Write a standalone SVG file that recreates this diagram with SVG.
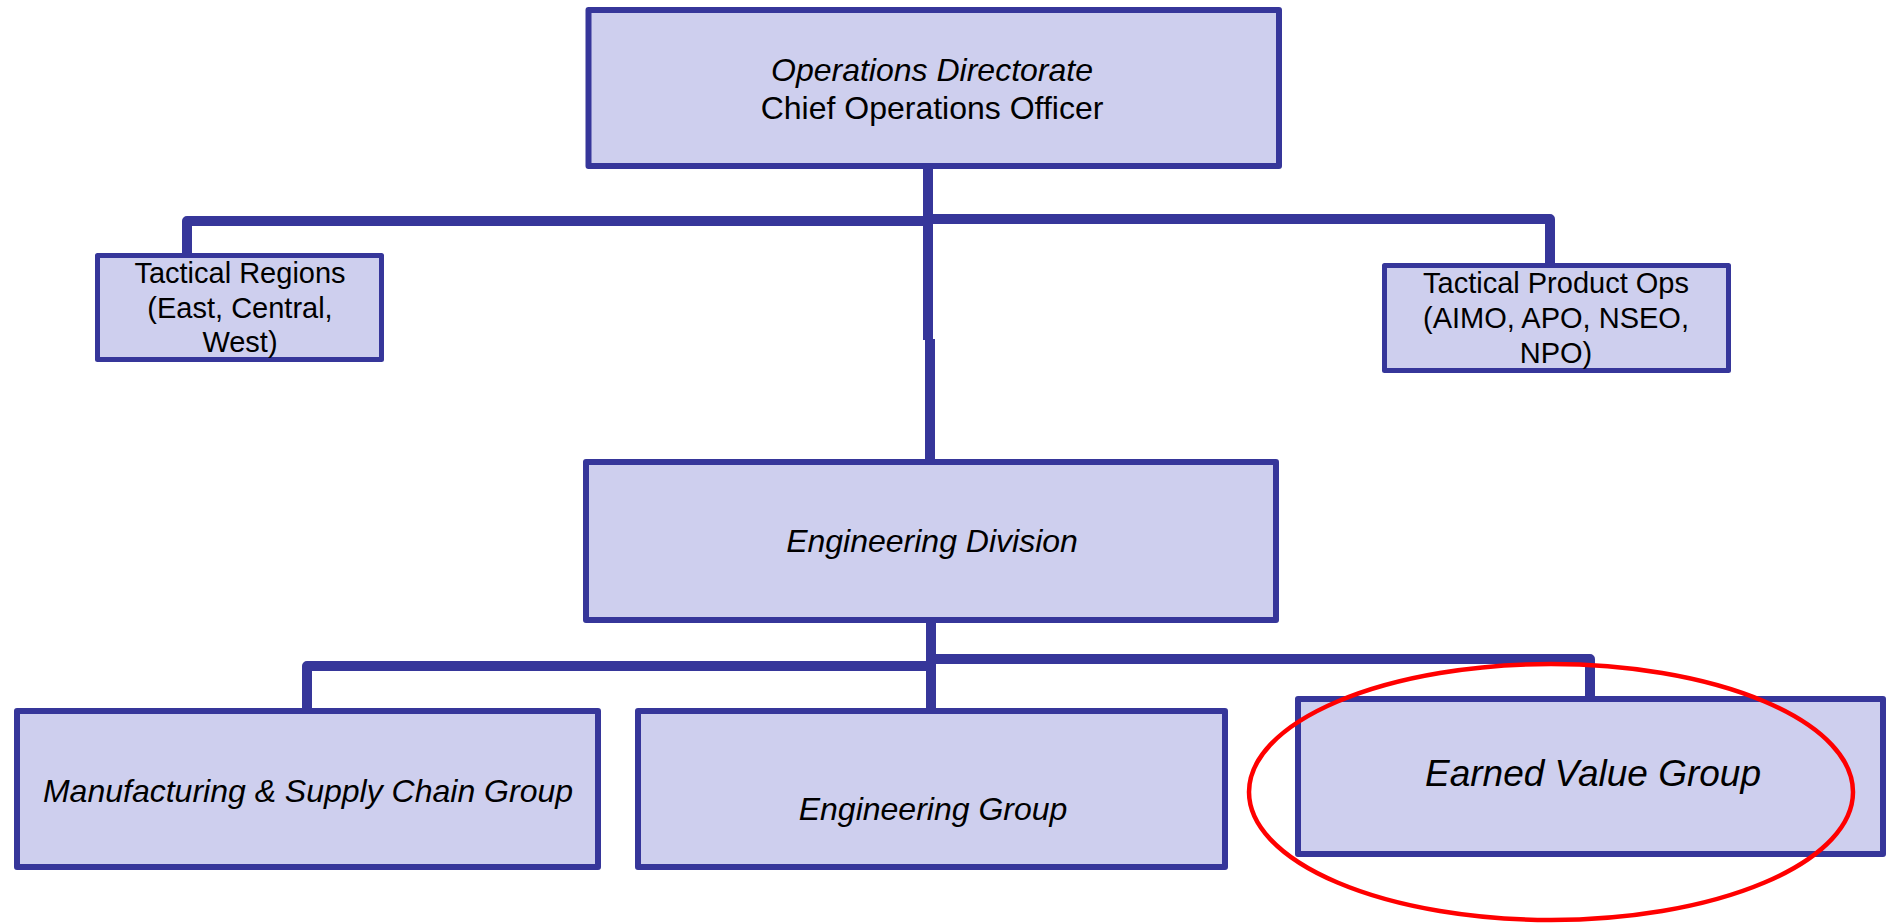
<svg xmlns="http://www.w3.org/2000/svg" width="1891" height="923" viewBox="0 0 1891 923">
  <style>
    .box { fill: #CECFEE; stroke: #36369A; stroke-width: 6; stroke-linejoin: round; }
    .small { stroke-width: 5; }
    .conn { fill: none; stroke: #36369A; stroke-width: 10; stroke-linejoin: round; stroke-linecap: butt; }
    .t { font-family: "Liberation Sans", Arial, sans-serif; fill: #000; text-anchor: middle; }
    .it { font-style: italic; }
  </style>
  <rect x="0" y="0" width="1891" height="923" fill="#FFFFFF"/>
  <g id="connectors">
    <path class="conn" d="M928 166 V340"/>
    <path class="conn" d="M930 339 V461"/>
    <path class="conn" d="M187 253 V221 H928"/>
    <path class="conn" d="M928 219 H1550 V263"/>
    <path class="conn" d="M931 621 V710"/>
    <path class="conn" d="M307 710 V666 H931"/>
    <path class="conn" d="M931 659 H1590 V697"/>
  </g>
  <g id="node-ops">
    <rect class="box" x="588.5" y="10" width="690.5" height="156"/>
    <text class="t it" x="932" y="81" font-size="32">Operations Directorate</text>
    <text class="t" x="932" y="119" font-size="32">Chief Operations Officer</text>
  </g>
  <g id="node-tactical-regions">
    <rect class="box small" x="97.5" y="255.5" width="284" height="104"/>
    <text class="t" x="240" y="283" font-size="29">Tactical Regions</text>
    <text class="t" x="240" y="318" font-size="29">(East, Central,</text>
    <text class="t" x="240" y="352" font-size="29">West)</text>
  </g>
  <g id="node-tactical-product">
    <rect class="box small" x="1384.5" y="265.5" width="344" height="105"/>
    <text class="t" x="1556" y="293" font-size="29">Tactical Product Ops</text>
    <text class="t" x="1556" y="328" font-size="29">(AIMO, APO, NSEO,</text>
    <text class="t" x="1556" y="363" font-size="29">NPO)</text>
  </g>
  <g id="node-eng-division">
    <rect class="box" x="586" y="462" width="690" height="158"/>
    <text class="t it" x="932" y="552" font-size="32">Engineering Division</text>
  </g>
  <g id="node-manufacturing">
    <rect class="box" x="17" y="711" width="581" height="156"/>
    <text class="t it" x="308" y="802" font-size="32">Manufacturing &amp; Supply Chain Group</text>
  </g>
  <g id="node-eng-group">
    <rect class="box" x="638" y="711" width="587" height="156"/>
    <text class="t it" x="933" y="820" font-size="32">Engineering Group</text>
  </g>
  <g id="node-earned-value">
    <rect class="box" x="1298" y="699" width="585" height="155"/>
    <text class="t it" x="1593" y="786" font-size="37">Earned Value Group</text>
  </g>
  <ellipse id="highlight" cx="1551" cy="792" rx="302" ry="128" fill="none" stroke="#FF0000" stroke-width="4.5"/>
</svg>
